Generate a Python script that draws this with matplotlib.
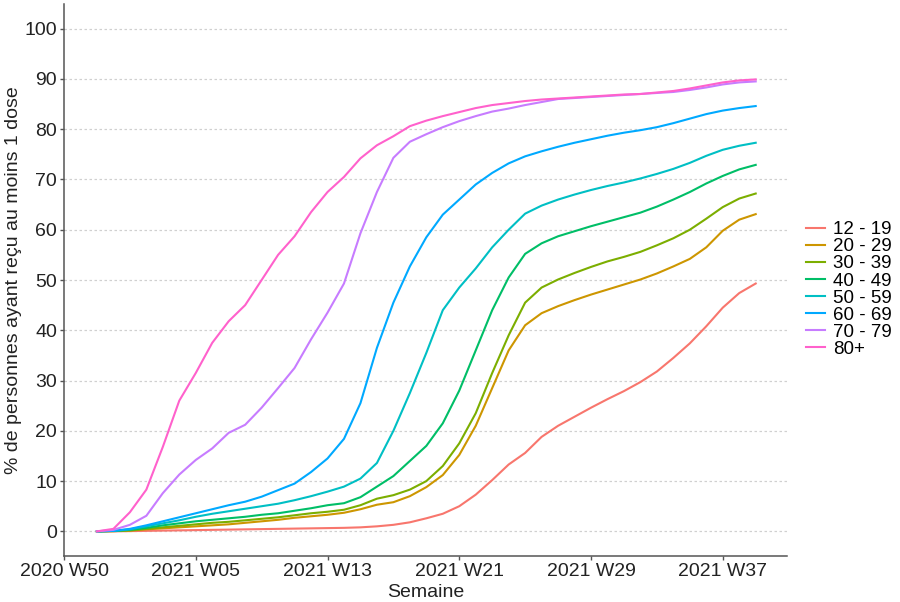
import matplotlib
matplotlib.use("Agg")
import matplotlib.pyplot as plt
import numpy as np

plt.rcParams["font.family"] = ["Liberation Sans", "DejaVu Sans"]

# weeks counted from 2020 W50 (2020 has 53 weeks); data runs 2020 W52 .. 2021 W39
week_idx = np.arange(2, 43)
tick_idx = [0, 8, 16, 24, 32, 40]
tick_labels = ["2020 W50", "2021 W05", "2021 W13", "2021 W21", "2021 W29", "2021 W37"]

age_groups = ["12 - 19", "20 - 29", "30 - 39", "40 - 49", "50 - 59", "60 - 69", "70 - 79", "80+"]
colors = ["#F8766D", "#CD9600", "#7CAE00", "#00BE67", "#00BFC4", "#00A9FF", "#C77CFF", "#FF61CC"]

g12_19 = [0, 0, 0.05, 0.1, 0.15, 0.2, 0.25, 0.3, 0.35, 0.4, 0.45, 0.5, 0.55, 0.6, 0.65, 0.7,
          0.8, 1.0, 1.3, 1.8, 2.6, 3.5, 5.0, 7.3, 10.2, 13.3, 15.6, 18.8, 21.0, 22.8, 24.6,
          26.3, 27.9, 29.7, 31.8, 34.5, 37.4, 40.8, 44.5, 47.4, 49.3]
g20_29 = [0, 0.05, 0.15, 0.4, 0.6, 0.8, 1.0, 1.2, 1.4, 1.7, 2.0, 2.3, 2.7, 3.0, 3.3, 3.7,
          4.4, 5.3, 5.8, 7.0, 8.8, 11.2, 15.2, 21.0, 28.5, 36.0, 41.0, 43.4, 44.8, 46.0, 47.1,
          48.1, 49.1, 50.1, 51.3, 52.7, 54.2, 56.5, 59.8, 62.0, 63.1]
g30_39 = [0, 0.05, 0.2, 0.5, 0.8, 1.1, 1.4, 1.7, 1.9, 2.2, 2.5, 2.8, 3.2, 3.6, 3.9, 4.3,
          5.2, 6.5, 7.2, 8.3, 10.0, 13.0, 17.5, 23.5, 31.5, 39.0, 45.5, 48.5, 50.1, 51.4, 52.6,
          53.7, 54.6, 55.6, 56.9, 58.3, 60.0, 62.2, 64.5, 66.2, 67.2]
g40_49 = [0, 0.1, 0.3, 0.7, 1.2, 1.6, 2.0, 2.3, 2.6, 2.9, 3.3, 3.6, 4.1, 4.6, 5.2, 5.6,
          6.8, 8.9, 11.0, 14.0, 17.0, 21.5, 28.0, 36.0, 44.0, 50.5, 55.2, 57.3, 58.7, 59.7, 60.7,
          61.6, 62.5, 63.4, 64.6, 66.0, 67.5, 69.2, 70.7, 72.0, 72.9]
g50_59 = [0, 0.1, 0.4, 1.0, 1.6, 2.2, 2.9, 3.5, 4.0, 4.5, 5.0, 5.5, 6.2, 7.0, 7.9, 8.9,
          10.5, 13.6, 20.0, 27.5, 35.5, 44.0, 48.5, 52.3, 56.5, 60.0, 63.2, 64.8, 66.0, 67.0, 67.9,
          68.7, 69.4, 70.2, 71.1, 72.1, 73.3, 74.7, 75.9, 76.7, 77.3]
g60_69 = [0, 0.1, 0.5, 1.2, 2.0, 2.8, 3.6, 4.4, 5.2, 5.9, 6.9, 8.2, 9.5, 11.8, 14.5, 18.4,
          25.5, 36.5, 45.5, 52.7, 58.5, 63.0, 66.0, 69.0, 71.3, 73.2, 74.6, 75.6, 76.5, 77.3, 78.0,
          78.7, 79.3, 79.8, 80.4, 81.2, 82.1, 83.0, 83.7, 84.2, 84.6]
g70_79 = [0, 0.3, 1.3, 3.1, 7.6, 11.3, 14.2, 16.5, 19.6, 21.2, 24.6, 28.5, 32.5, 38.2, 43.5, 49.3,
          59.3, 67.5, 74.3, 77.5, 79.0, 80.4, 81.6, 82.6, 83.5, 84.1, 84.8, 85.4, 86.0, 86.2, 86.4,
          86.6, 86.8, 87.0, 87.2, 87.4, 87.8, 88.3, 88.9, 89.3, 89.5]
g80p = [0, 0.5, 3.8, 8.3, 16.8, 26.0, 31.5, 37.5, 41.8, 45.0, 50.0, 55.0, 58.7, 63.5, 67.5, 70.5,
        74.2, 76.8, 78.6, 80.6, 81.7, 82.6, 83.4, 84.2, 84.8, 85.2, 85.6, 85.9, 86.1, 86.3, 86.5,
        86.7, 86.9, 87.0, 87.3, 87.6, 88.1, 88.7, 89.3, 89.7, 89.9]

series = [g12_19, g20_29, g30_39, g40_49, g50_59, g60_69, g70_79, g80p]

fig = plt.figure(figsize=(9, 6.02), dpi=100)
ax = fig.add_axes([64 / 900, 46 / 602, (787 - 64) / 900, (556 - 4) / 602])

for label, color, vals in zip(age_groups, colors, series):
    ax.plot(week_idx, vals, color=color, lw=1.5, label=label)

ax.set_xlim(0, 43.9)
ax.set_ylim(-4.9, 104.9)
ax.set_yticks(np.arange(0, 101, 10))
ax.set_xticks(tick_idx)
ax.set_xticklabels(tick_labels)
ax.yaxis.grid(True, linestyle=(0, (2, 2)), color="#d0d0d0", lw=0.9)
ax.set_axisbelow(True)

for side in ("top", "right"):
    ax.spines[side].set_visible(False)
for side in ("left", "bottom"):
    ax.spines[side].set_color("#555555")
    ax.spines[side].set_linewidth(1.1)
ax.tick_params(colors="#555555", length=3, width=1, labelsize=14, labelcolor="#222222", pad=2)

ax.set_xlabel("Semaine", fontsize=14, color="#222222", labelpad=3)
ax.set_ylabel("% de personnes ayant reçu au moins 1 dose", fontsize=14,
              color="#222222", labelpad=2)

handles, labels = ax.get_legend_handles_labels()
fig.legend(handles, labels, loc="center left", bbox_to_anchor=(0.896, 0.519),
           frameon=False, fontsize=13.5, handlelength=1.0, handletextpad=0.4,
           labelspacing=0.0, borderaxespad=0, borderpad=0)

fig.savefig("out.png", dpi=100, facecolor="white")
